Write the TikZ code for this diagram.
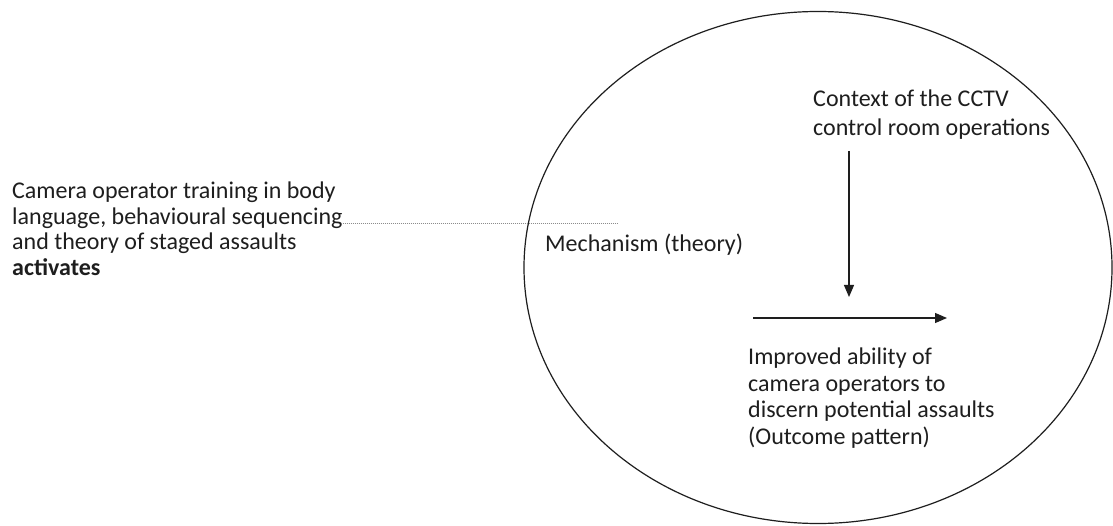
\documentclass[tikz,border=0pt]{standalone}
\usepackage{fontspec}
\setmainfont{Carlito}
\usetikzlibrary{arrows.meta}
\definecolor{ink}{HTML}{1E1E1E}
\definecolor{dotgray}{HTML}{8C8C8C}
\tikzset{
  label text/.style={inner sep=0pt, align=left, anchor=north west, text=ink,
    font=\fontsize{24}{25.5}\selectfont},
  ring/.style={draw=ink, line width=1.2pt},
  flow/.style={draw=ink, line width=1.2pt, -{Triangle[length=12pt,width=10pt]}},
  leader/.style={draw=dotgray, line width=0.8pt, dash pattern=on 0.8pt off 1.2pt},
}
\begin{document}
\begin{tikzpicture}[x=1pt,y=-1pt]
\useasboundingbox (0,0) rectangle (1113,526);
\fill[white] (0,0) rectangle (1113,526);

% scope of the programme theory
\draw[ring] (818,267.5) ellipse [x radius=294, y radius=256];

% input on the left
\node[label text] (train) at (12,182)
  {Camera operator training in body\\
   language, behavioural sequencing\\
   and theory of staged assaults\\
   \textbf{activates}};

% labels inside the ellipse
\node[label text] (mech) at (545,234) {Mechanism (theory)};
\node[label text, font=\fontsize{24}{29}\selectfont] (ctx) at (813,90)
  {Context of the CCTV\\ control room operations};
\node[label text, font=\fontsize{24}{26.5}\selectfont] (outc) at (748,348)
  {Improved ability of\\
   camera operators to\\
   discern potential assaults\\
   (Outcome pattern)};

% leader from the training text into the ellipse
\coordinate (leadend) at (617,223);
\draw[leader] (train.east |- leadend) -- (leadend);

% context acting on the mechanism
\coordinate (ctxtip) at (849,297);
\draw[flow] ([yshift=-11pt]ctx.south -| ctxtip) -- (ctxtip);

% mechanism producing the outcome
\coordinate (outstart) at (753,318);
\coordinate (outtip) at (947,318);
\draw[flow] (outstart) -- (outtip);
\end{tikzpicture}
\end{document}
